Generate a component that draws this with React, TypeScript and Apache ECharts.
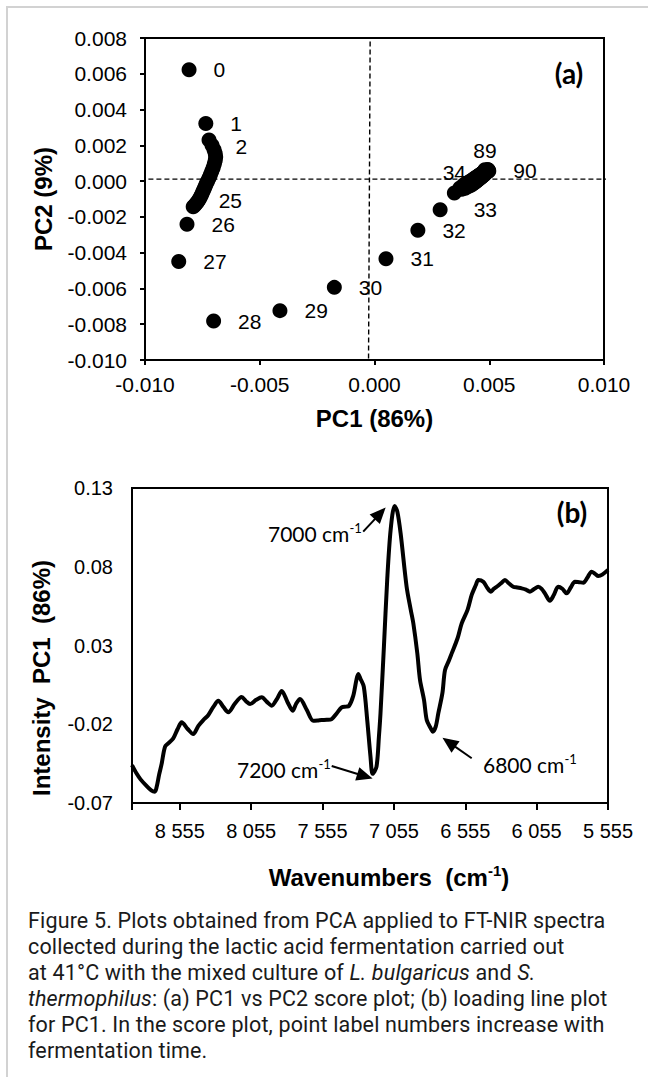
import React, { useEffect, useRef } from "react";
import * as echarts from "echarts";

// ---------- (a) PCA score plot ----------
const scoreX = [
  -0.00808, -0.00735,
  -0.00721, -0.00708, -0.00699, -0.00694, -0.00692, -0.00694, -0.00698, -0.00703,
  -0.00709, -0.00715, -0.00721, -0.00727, -0.00733, -0.00738, -0.00743, -0.00748,
  -0.00753, -0.00758, -0.00763, -0.00768, -0.00773, -0.00779, -0.00784, -0.0079,
  -0.00817, -0.00853, -0.00701, -0.00412, -0.00175, 0.0005, 0.00189, 0.00286, 0.00348,
  0.00372, 0.0038, 0.00388, 0.00395, 0.004, 0.00406, 0.00411, 0.00416, 0.0042, 0.00424,
  0.00428, 0.00431, 0.00434, 0.00437, 0.0044, 0.00443, 0.00446, 0.00448, 0.00451, 0.00453,
  0.00455, 0.00457, 0.00459, 0.00461, 0.00463, 0.00465, 0.00467, 0.00468, 0.0047, 0.00471,
  0.00473, 0.00474, 0.00476, 0.00477, 0.00478, 0.00479, 0.0048, 0.00481, 0.00482, 0.00483,
  0.00484, 0.00485, 0.00486, 0.00487, 0.00488, 0.00489, 0.0049, 0.00491, 0.00492, 0.00493,
  0.00494, 0.00494, 0.00495, 0.00496, 0.00481, 0.00498,
];
const scoreY = [
  0.00622, 0.00322,
  0.0023, 0.002, 0.00175, 0.00155, 0.00135, 0.00115, 0.00095, 0.00075,
  0.00055, 0.00035, 0.00018, 0.0, -0.00015, -0.0003, -0.00045, -0.0006,
  -0.00075, -0.00088, -0.001, -0.0011, -0.0012, -0.00128, -0.00136, -0.00143,
  -0.00241, -0.00449, -0.00782, -0.00724, -0.00594, -0.00434, -0.00275, -0.0016, -0.00066,
  -0.00038, -0.00045, -0.00022, -0.0004, -0.00012, -0.00032, -0.00005, -0.00026, 0.00002, -0.0002,
  0.00008, -0.00014, 0.00014, -0.00008, 0.00019, -0.00002, 0.00024, 0.00004, 0.00028, 0.00009,
  0.00032, 0.00013, 0.00036, 0.00017, 0.00039, 0.00021, 0.00042, 0.00025, 0.00045, 0.00028,
  0.00047, 0.00031, 0.0005, 0.00034, 0.00052, 0.00037, 0.00054, 0.0004, 0.00056, 0.00043,
  0.00057, 0.00046, 0.00059, 0.00048, 0.0006, 0.0005, 0.00061, 0.00052, 0.00062, 0.00054,
  0.00063, 0.00056, 0.00063, 0.00058, 0.00064, 0.00057,
];
const scoreLabelIdx = [0, 1, 2, 25, 26, 27, 28, 29, 30, 31, 32, 33, 34, 89, 90];
const zeroLineX = [-0.00019, -0.00026];
const zeroLineY = 0.00011;

// ---------- (b) PC1 loading ----------
const wavenumbers = [
  8890, 8860, 8830, 8790, 8755, 8730, 8717, 8700, 8682, 8659, 8636, 8601, 8570, 8542,
  8500, 8461, 8425, 8390, 8355, 8320, 8285, 8250, 8215, 8170, 8122, 8090, 8063, 8020,
  7981, 7945, 7911, 7875, 7841, 7800, 7764, 7740, 7713, 7665, 7620, 7590, 7561, 7525,
  7491, 7455, 7421, 7390, 7370, 7340, 7318, 7305, 7290, 7266, 7242, 7219, 7204, 7177,
  7160, 7149, 7125, 7102, 7078, 7050, 7031, 7008, 6966, 6937, 6919, 6891, 6872, 6844,
  6825, 6797, 6783, 6762, 6744, 6715, 6697, 6668, 6650, 6609, 6580, 6539, 6510, 6481,
  6464, 6429, 6400, 6375, 6355, 6335, 6305, 6277, 6250, 6219, 6190, 6160, 6130, 6102,
  6070, 6044, 6020, 5997, 5962, 5935, 5904, 5875, 5845, 5815, 5787, 5757, 5728, 5700,
  5670, 5645, 5623, 5595, 5555,
];
const loadingPC1 = [
  -0.046, -0.051, -0.055, -0.059, -0.062, -0.0628, -0.0597, -0.052, -0.045, -0.0343, -0.0321, -0.029, -0.023, -0.0188,
  -0.023, -0.0262, -0.021, -0.0173, -0.0141, -0.009, -0.0051, -0.009, -0.0124, -0.007, -0.0027, -0.0055, -0.0072, -0.0045,
  -0.0029, -0.0058, -0.0082, -0.004, 0.0011, -0.006, -0.0114, -0.007, -0.004, -0.011, -0.0178, -0.0176, -0.0173, -0.0172,
  -0.0167, -0.013, -0.0093, -0.0088, -0.0084, -0.002, 0.008, 0.0119, 0.009, 0.0039, -0.0173, -0.0406, -0.0515, -0.047,
  -0.0279, -0.0131, 0.0293, 0.0716, 0.1033, 0.1186, 0.115, 0.1012, 0.0673, 0.0526, 0.0441, 0.025, 0.0081, -0.0046,
  -0.0173, -0.0226, -0.0247, -0.0215, -0.0131, -0.0001, 0.0144, 0.0208, 0.025, 0.0346, 0.0441, 0.0526, 0.0621, 0.0684,
  0.0716, 0.0705, 0.0665, 0.0642, 0.066, 0.0673, 0.0695, 0.0716, 0.0695, 0.0673, 0.0668, 0.0663, 0.0655, 0.0642,
  0.066, 0.0673, 0.066, 0.0631, 0.0584, 0.062, 0.0673, 0.066, 0.0631, 0.067, 0.0705, 0.0702, 0.0699, 0.073,
  0.0769, 0.0755, 0.0741, 0.075, 0.078,
];
const peakNames = ["7000", "7200", "6800"];
const arrowFrom = [
  [7270, 0.1023],
  [7491, -0.0465],
  [6510, -0.0416],
];
const arrowTo = [
  [7151, 0.1139],
  [7258, -0.053],
  [6669, -0.0315],
];

const TICK_FONT = "'Liberation Sans', Arial, sans-serif";
const NOTE_FONT = "Lato, 'Open Sans', sans-serif";

const labelLayout: Record<number, any> = {
  2: { offset: [2, 7] },
  25: { offset: [1, -6] },
  33: { distance: 26 },
  34: { position: "top", distance: 2 },
  89: { position: "top", distance: 1 },
};

const fmt = (v: number, d: number) => {
  if (Math.abs(v) < 1e-12) v = 0;
  return v.toFixed(d);
};

function buildOption(): any {
  const scoreData = scoreX.map((x, i) => {
    const item: any = { value: [x, scoreY[i]] };
    if (scoreLabelIdx.includes(i)) {
      const lay = labelLayout[i] || {};
      item.label = {
        show: true,
        position: lay.position || "right",
        distance: lay.distance ?? 17,
        offset: lay.offset || [0, 0],
        formatter: String(i),
      };
    }
    return item;
  });
  const lineData = wavenumbers.map((w, i) => [w, loadingPC1[i]]);
  const arrows = arrowFrom.map((f, i) => [
    { coord: f, symbol: "none" },
    { coord: arrowTo[i], symbol: "triangle", symbolSize: [14, 16] },
  ]);

  const tickLabel = { color: "#000", fontFamily: TICK_FONT };
  const titleStyle = { color: "#000", fontFamily: TICK_FONT, fontWeight: "bold", fontSize: 24 };
  const axisLine = { onZero: false, lineStyle: { color: "#000", width: 2 } };
  const sup = (x: number, y: number, name: string) => ({
    type: "text",
    x,
    y,
    style: {
      text: `{t|${name} cm}{s|-1}`,
      align: "left",
      verticalAlign: "middle",
      fill: "#000",
      rich: {
        t: { fontFamily: NOTE_FONT, fontSize: 21, lineHeight: 24, fill: "#000" },
        s: { fontFamily: NOTE_FONT, fontSize: 13, lineHeight: 24, verticalAlign: "top", fill: "#000" },
      },
    },
  });

  return {
    animation: false,
    backgroundColor: "transparent",
    grid: [
      { left: 145, top: 38, width: 459, height: 322, show: true, borderColor: "#000", borderWidth: 2 },
      { left: 132, top: 488, width: 476, height: 315, show: true, borderColor: "#000", borderWidth: 2 },
    ],
    xAxis: [
      {
        gridIndex: 0,
        type: "value",
        min: -0.01,
        max: 0.01,
        interval: 0.005,
        name: "PC1 (86%)",
        nameLocation: "middle",
        nameGap: 46,
        nameTextStyle: titleStyle,
        axisLine,
        axisTick: { show: true, inside: false, length: 5, lineStyle: { color: "#000", width: 2 } },
        splitLine: { show: false },
        axisLabel: { ...tickLabel, fontSize: 21, margin: 14, formatter: (v: number) => fmt(v, 3) },
      },
      {
        gridIndex: 1,
        type: "value",
        inverse: true,
        min: 5555,
        max: 8890,
        interval: 500,
        axisLine,
        axisTick: { show: true, inside: false, length: 7, lineStyle: { color: "#000", width: 2 } },
        splitLine: { show: false },
        axisLabel: {
          ...tickLabel,
          fontSize: 20,
          margin: 18,
          formatter: (v: number) => {
            const k = Math.round(v);
            if ((k - 5555) % 500 !== 0) return "";
            const s = String(k);
            return s.slice(0, 1) + " " + s.slice(1);
          },
        },
      },
    ],
    yAxis: [
      {
        gridIndex: 0,
        type: "value",
        min: -0.01,
        max: 0.008,
        interval: 0.002,
        name: "PC2 (9%)",
        nameLocation: "middle",
        nameGap: 90,
        nameTextStyle: titleStyle,
        axisLine,
        axisTick: { show: true, inside: false, length: 5, lineStyle: { color: "#000", width: 2 } },
        splitLine: { show: false },
        axisLabel: { ...tickLabel, fontSize: 21, margin: 18, formatter: (v: number) => fmt(v, 3) },
      },
      {
        gridIndex: 1,
        type: "value",
        min: -0.07,
        max: 0.13,
        interval: 0.05,
        axisLine,
        axisTick: { show: false },
        splitLine: { show: false },
        axisLabel: { ...tickLabel, fontSize: 20, margin: 19, formatter: (v: number) => fmt(v, 2) },
      },
    ],
    series: [
      {
        type: "line",
        xAxisIndex: 0,
        yAxisIndex: 0,
        data: [
          [zeroLineX[0], 0.0078],
          [zeroLineX[1], -0.01],
        ],
        symbol: "none",
        lineStyle: { color: "#000", width: 1.4, type: [5, 3] },
        z: 1,
        silent: true,
      },
      {
        type: "line",
        xAxisIndex: 0,
        yAxisIndex: 0,
        data: [
          [-0.0102, zeroLineY],
          [0.0102, zeroLineY],
        ],
        clip: false,
        symbol: "none",
        lineStyle: { color: "#000", width: 1.4, type: [5, 3] },
        z: 1,
        silent: true,
      },
      {
        type: "scatter",
        xAxisIndex: 0,
        yAxisIndex: 0,
        symbol: "circle",
        symbolSize: 15,
        itemStyle: { color: "#000", opacity: 1 },
        label: { show: false, color: "#000", fontSize: 21, fontFamily: TICK_FONT, opacity: 1 },
        emphasis: { disabled: true },
        data: scoreData,
        z: 3,
      },
      {
        type: "line",
        xAxisIndex: 1,
        yAxisIndex: 1,
        data: lineData,
        symbol: "none",
        smooth: 0.3,
        lineStyle: { color: "#000", width: 4 },
        markLine: {
          silent: true,
          symbol: ["none", "triangle"],
          lineStyle: { color: "#000", width: 2, type: "solid", opacity: 1 },
          itemStyle: { color: "#000" },
          label: { show: false },
          emphasis: { disabled: true },
          data: arrows,
        },
      },
    ],
    graphic: [
      {
        type: "text",
        x: 569,
        y: 73,
        style: { text: "(a)", fontFamily: NOTE_FONT, fontWeight: "bold", fontSize: 28, fill: "#000", align: "center", verticalAlign: "middle" },
      },
      {
        type: "text",
        x: 572,
        y: 512,
        style: { text: "(b)", fontFamily: NOTE_FONT, fontWeight: "bold", fontSize: 28, fill: "#000", align: "center", verticalAlign: "middle" },
      },
      sup(268, 533, peakNames[0]),
      sup(237, 769, peakNames[1]),
      sup(483, 764, peakNames[2]),
      {
        type: "text",
        x: 41,
        y: 678,
        rotation: Math.PI / 2,
        style: {
          text: "Intensity  PC1  (86%)",
          fontFamily: TICK_FONT,
          fontWeight: "bold",
          fontSize: 24,
          fill: "#000",
          align: "center",
          verticalAlign: "middle",
        },
      },
      {
        type: "text",
        x: 389,
        y: 877,
        style: {
          text: "{t|Wavenumbers  (cm}{s|-1}{t|)}",
          align: "center",
          verticalAlign: "middle",
          fill: "#000",
          rich: {
            t: { fontFamily: TICK_FONT, fontWeight: "bold", fontSize: 24, lineHeight: 28, fill: "#000" },
            s: { fontFamily: TICK_FONT, fontWeight: "bold", fontSize: 15, lineHeight: 28, verticalAlign: "top", fill: "#000" },
          },
        },
      },
    ],
  };
}

export default function App() {
  const ref = useRef<HTMLDivElement>(null);
  useEffect(() => {
    if (!ref.current) return;
    const chart = echarts.init(ref.current, undefined, { renderer: "svg" });
    chart.setOption(buildOption());
    return () => chart.dispose();
  }, []);

  const captionStyle: React.CSSProperties = {
    position: "absolute",
    left: 28,
    top: 908,
    fontFamily: "Roboto, sans-serif",
    fontSize: 21.5,
    lineHeight: "26px",
    color: "#1a1a1a",
    whiteSpace: "nowrap",
    letterSpacing: "0.15px",
  };

  return (
    <div style={{ position: "absolute", left: 0, top: 0, width: 648, height: 1077, overflow: "hidden", background: "#fff" }}>
      <div
        style={{
          position: "absolute",
          left: 6,
          top: 6,
          width: 642,
          height: 1071,
          borderLeft: "2px solid #d2d2d2",
          borderTop: "2px solid #d2d2d2",
          boxSizing: "border-box",
        }}
      />
      <div ref={ref} style={{ position: "absolute", left: 0, top: 0, width: 648, height: 900 }} />
      <div style={captionStyle}>
        <div>Figure 5. Plots obtained from PCA applied to FT-NIR spectra</div>
        <div>collected during the lactic acid fermentation carried out</div>
        <div>
          at 41°C with the mixed culture of <i>L. bulgaricus</i> and <i>S.</i>
        </div>
        <div>
          <i>thermophilus</i>: (a) PC1 vs PC2 score plot; (b) loading line plot
        </div>
        <div>for PC1. In the score plot, point label numbers increase with</div>
        <div>fermentation time.</div>
      </div>
    </div>
  );
}
